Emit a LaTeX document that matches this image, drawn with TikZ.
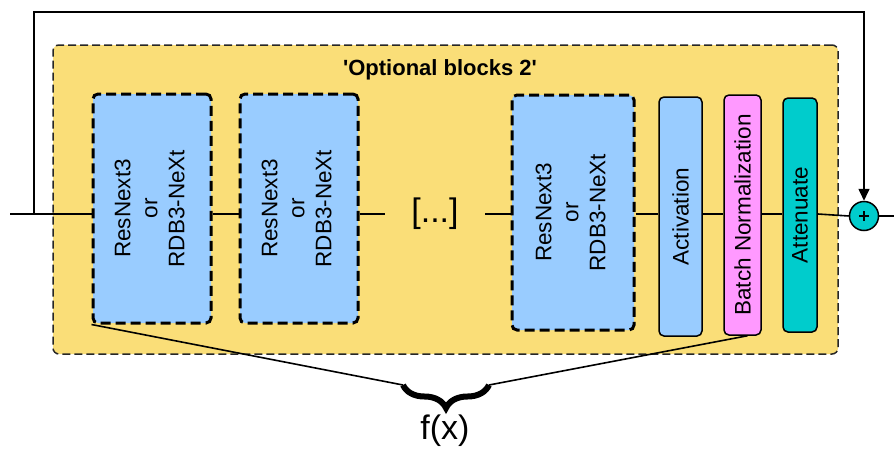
\documentclass[tikz,border=0pt]{standalone}
\usepackage{fontspec}
\setmainfont{Liberation Sans}
\usetikzlibrary{arrows.meta,decorations.pathreplacing,calc}
\definecolor{panelfill}{HTML}{FADE78}
\definecolor{blockblue}{HTML}{99CCFF}
\definecolor{normpink}{HTML}{FF99FF}
\definecolor{atteal}{HTML}{00CCCC}
\newcommand{\blocktext}[1]{\rotatebox{90}{\begin{tabular}{@{}c@{}}#1\end{tabular}}}
\begin{document}
\begin{tikzpicture}[x=1pt,y=-1pt,
  font=\fontsize{22.5}{27}\selectfont,
  wire/.style={line width=1.6pt,black},
  panelbox/.style={draw=black!85,fill=panelfill,line width=1.5pt,
    dash pattern=on 8pt off 4pt,rounded corners=6pt,inner sep=0pt},
  resblock/.style={draw=black,fill=blockblue,line width=3pt,
    dash pattern=on 10pt off 5pt,rounded corners=5pt,inner sep=0pt},
  layerbox/.style={draw=black,line width=1.5pt,rounded corners=5pt,inner sep=0pt},
  sumnode/.style={circle,draw=black,fill=atteal,line width=1.5pt,
    minimum size=29pt,inner sep=0pt,
    path picture={
      \draw[line width=1.5pt]
        ([xshift=-5pt]path picture bounding box.center) --
        ([xshift=5pt]path picture bounding box.center);
      \draw[line width=1.5pt]
        ([yshift=-5pt]path picture bounding box.center) --
        ([yshift=5pt]path picture bounding box.center);}},
]
\useasboundingbox (0,0) rectangle (894,450);

% container of the optional blocks
\node[panelbox,minimum width=785pt,minimum height=309pt] (panel) at (445.5,199.5) {};
\node[font=\fontsize{22}{26}\selectfont\bfseries] (title) at (440,70)
  {\textquotesingle Optional blocks 2\textquotesingle};

% residual blocks
\node[resblock,minimum width=118pt,minimum height=229pt] (b1) at (152,208.5)
  {\blocktext{ResNext3\\or\\RDB3-NeXt}};
\node[resblock,minimum width=118pt,minimum height=229pt] (b2) at (299,208.5)
  {\blocktext{ResNext3\\or\\RDB3-NeXt}};
\node[minimum width=100pt,inner sep=0pt,font=\fontsize{34}{40}\selectfont] (dots) at (435,214) {[...]};
\node[resblock,minimum width=122pt,minimum height=235pt] (b3) at (573,212.5)
  {\blocktext{ResNext3\\or\\RDB3-NeXt}};

% final layers
\node[layerbox,fill=blockblue,minimum width=43pt,minimum height=239pt] (act) at (680.5,216.5)
  {\rotatebox{90}{Activation}};
\node[layerbox,fill=normpink,minimum width=37pt,minimum height=240pt] (bn) at (742.5,215)
  {\rotatebox{90}{Batch Normalization}};
\node[layerbox,fill=atteal,minimum width=34pt,minimum height=234pt] (att) at (800,215)
  {\rotatebox{90}{Attenuate}};

% summation
\node[sumnode] (plus) at (864,216) {};

% main signal path
\coordinate (in) at (10,214);
\coordinate (split) at (34,214);
\coordinate (top) at (864,12);
\coordinate (out) at (894,216);
\draw[wire] (in) -- (in -| b1.west);
\draw[wire] (b1.east |- in) -- (b2.west |- in);
\draw[wire] (b2.east |- in) -- (dots.west);
\draw[wire] (dots.east) -- (b3.west |- in);
\draw[wire] (b3.east |- in) -- (act.west |- in);
\draw[wire] (act.east |- in) -- (bn.west |- in);
\draw[wire] (bn.east |- in) -- (att.west |- in);
\draw[wire] (att.east |- in) -- (plus.west);
\draw[wire] (plus.east) -- (out);

% skip connection
\draw[wire,-{Triangle[length=12pt,width=11pt]}] (split) |- (top) -- (plus.north);

% f(x) brace
\coordinate (bl) at (403,385);
\coordinate (br) at (489,385);
\draw[line width=6pt,decorate,decoration={brace,amplitude=23pt,mirror}] (bl) -- (br);
\draw[wire] (b1.south west) -- (bl);
\draw[wire] ([xshift=5pt]bn.south) -- (br);
\node[font=\fontsize{34}{40}\selectfont] (fx) at (445,431) {f(x)};
\end{tikzpicture}
\end{document}
